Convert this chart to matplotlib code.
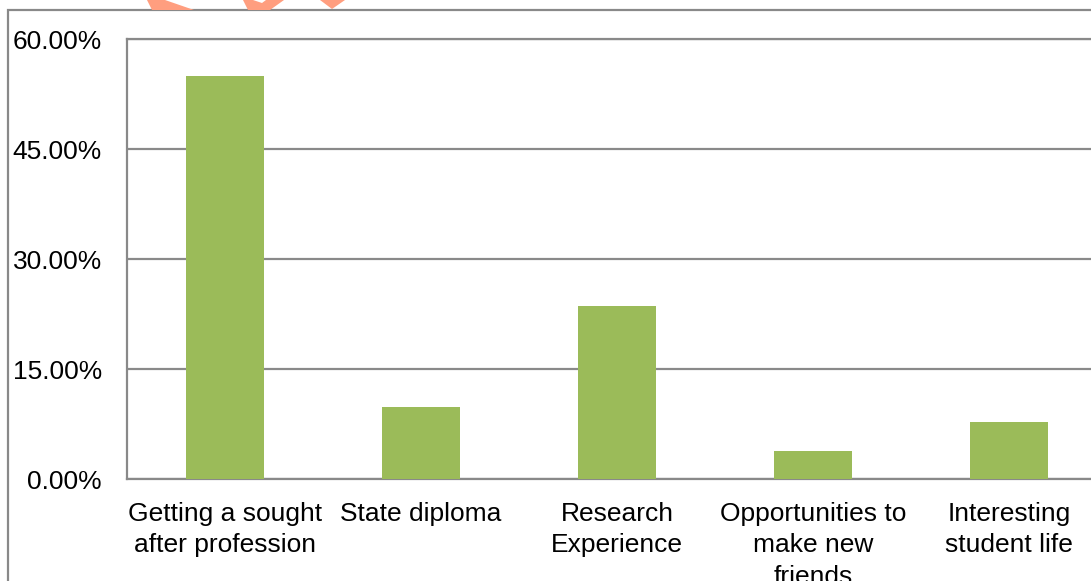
import matplotlib
matplotlib.use("Agg")
import matplotlib.pyplot as plt
from matplotlib.patches import Rectangle, Polygon
from matplotlib.ticker import FuncFormatter

plt.rcParams["font.family"] = ["Liberation Sans", "DejaVu Sans"]

categories = [
    "Getting a sought\nafter profession",
    "State diploma",
    "Research\nExperience",
    "Opportunities to\nmake new\nfriends",
    "Interesting\nstudent life",
]
shares = [55.0, 9.9, 23.6, 3.9, 7.8]
y_ticks = [0, 15, 30, 45, 60]

GREEN = "#9bbb59"
GRID = "#898989"
W, H = 1091, 581

fig = plt.figure(figsize=(W / 100, H / 100), dpi=100)
fig.patch.set_facecolor("white")

# chart frame, running off the right and bottom edges
fig.patches.append(Rectangle((8 / W, -0.2), 1.2, 1.2 - 10 / H,
                             transform=fig.transFigure, fill=False,
                             edgecolor=GRID, lw=1.6, zorder=0))

# orange marks along the top edge
for pts in [
    [(147, 0), (165, 0), (194, 10), (152, 10)],
    [(243, 0), (253, 0), (262, 3), (266, 0), (284, 0), (270, 10), (248, 10)],
    [(320, 0), (345, 0), (332, 9)],
]:
    fig.patches.append(Polygon([(x / W, 1 - y / H) for x, y in pts], closed=True,
                               transform=fig.transFigure, facecolor="#ff9e7f",
                               edgecolor="none", zorder=5))

# plot area; five 196 px slots starting at x=127, so it runs past the right edge
left, top, bottom = 127, 39.3, 479.3
ax = fig.add_axes([left / W, 1 - bottom / H, 980 / W, (bottom - top) / H])
ax.bar(range(len(categories)), shares, width=0.4, color=GREEN, zorder=3)

ax.set_xlim(-0.5, len(categories) - 0.5)
ax.set_ylim(0, 60)
ax.set_yticks(y_ticks)
ax.yaxis.set_major_formatter(FuncFormatter(lambda v, _: f"{v:.2f}%"))
ax.set_xticks(range(len(categories)))
ax.set_xticklabels(categories, linespacing=1.4)
ax.tick_params(axis="both", length=0, labelsize=19, colors="black")
ax.tick_params(axis="y", pad=18)
ax.tick_params(axis="x", pad=16)
ax.grid(axis="y", color=GRID, lw=1.6, zorder=1)
for side in ["top", "left", "bottom", "right"]:
    ax.spines[side].set_color(GRID)
    ax.spines[side].set_linewidth(1.6)

fig.savefig("out.png", dpi=100, facecolor="white")
